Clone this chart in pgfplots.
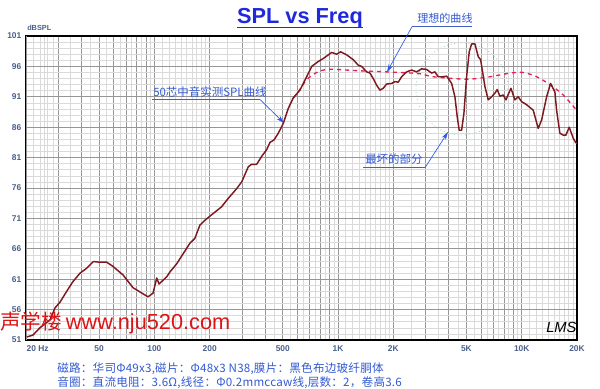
\documentclass[border=0pt]{standalone}
\usepackage{fontspec}
\setmainfont{Liberation Sans}
\newfontfamily\cjk{Noto Sans CJK SC}
\newfontfamily\cjkwide[LetterSpace=1.8]{Noto Sans CJK SC}
\usepackage{pgfplots}
\pgfplotsset{compat=1.18}
\usetikzlibrary{arrows.meta}
\definecolor{curve}{RGB}{125,25,30}
\definecolor{ideal}{RGB}{230,30,90}
\definecolor{anno}{RGB}{50,90,210}
\definecolor{arrowc}{RGB}{40,90,230}
\definecolor{ticklab}{RGB}{75,95,140}
\definecolor{titleblue}{RGB}{30,40,220}
\definecolor{gridmaj}{RGB}{150,150,150}
\definecolor{gridmin}{RGB}{218,218,218}
\definecolor{wm}{RGB}{220,20,20}
\definecolor{circ}{RGB}{165,215,215}

\pgfplotstableread{
f db
20.2 51.5
21.8 51.8
23.8 53.0
27 54.3
28.8 56.3
30.6 57.2
33.3 59.0
36 60.6
39.4 62.0
42.8 62.8
46.5 63.9
50.5 63.8
55 63.8
59.5 63.1
67.5 61.7
76.5 59.6
86.7 58.6
92.3 58.1
98.3 58.7
103 61.2
106 60.2
116.7 61.4
121.6 62.2
132 63.5
138 64.4
156 66.9
166 67.7
177 69.9
188.6 70.7
205 71.6
232 72.9
252.6 74.3
280.6 75.9
298.8 77.0
324.6 79.5
338.6 79.9
360.6 79.9
383.8 81.2
408.6 82.3
426 83.5
447.8 83.9
472.6 85.0
503 86.6
536 89.1
570 90.8
620 92.1
675 94.3
719 96.0
780 96.8
831 97.3
923 98.3
983 98.0
1033 98.4
1114 97.9
1210 97.1
1288 96.2
1344 96.0
1431 95.1
1492 94.9
1555 94.0
1622 92.9
1691 92.1
1762 92.4
1839 93.1
1958 93.2
2040 93.5
2126 93.4
2219 94.3
2362 95.1
2516 95.4
2678 95.1
2852 95.6
3036 95.5
3232 94.9
3368 95.1
3512 94.3
3738 94.3
3902 94.4
4154 93.2
4328 91.0
4456 87.7
4568 85.5
4708 85.5
4846 88.3
5012 94.3
5178 98.4
5336 99.7
5562 99.7
5798 97.6
5974 97.1
6304 92.7
6572 90.5
6858 91.0
7148 91.6
7356 92.2
7610 91.1
7932 91.3
8204 90.5
8734 92.4
9184 90.5
9572 91.0
9988 90.2
10634 89.7
11550 88.8
12300 85.8
12838 87.2
13664 91.0
14366 93.2
15160 91.8
15486 88.8
16140 85.0
16824 84.7
17404 84.7
18140 86.0
19070 84.2
19654 83.5
20000 83.3
}\measured

\pgfplotstableread{
f db
570 90.8
607 91.8
675 93.8
765 95.0
867 95.5
983 95.5
1263 95.3
1839 95.1
2172 95.0
2792 94.8
3298 94.3
5012 93.9
6714 94.3
8624 94.9
10190 95.0
12052 94.3
14242 93.0
16824 91.3
19900 88.8
}\ideal

\begin{document}
\begin{tikzpicture}
\useasboundingbox (-19.5pt,-36.75pt) rectangle (430.5pt,255pt);
\begin{scope}[shift={(-19.5pt,255pt)}]
\begin{scope}[x=0.75pt,y=-0.75pt]
\draw[circ, dotted, line width=0.7pt] (462,89) circle [radius=46];
\end{scope}
\end{scope}
\begin{axis}[at={(0,0)},anchor=south west,scale only axis,
  width=413.25pt,height=228pt,
  xmode=log, xmin=20, xmax=20000, ymin=51, ymax=101,
  xtick={20,30,40,50,60,70,80,90,100,200,300,400,500,600,700,800,900,1000,2000,3000,4000,5000,6000,7000,8000,9000,10000,20000},
  xticklabels={,,,50,,,,,100,200,,,500,,,,,1K,2K,,,5K,,,,,10K,20K},
  minor xtick={22,24,26,28,25,35,45,55,65,75,85,95,110,120,130,140,150,160,170,180,190,250,350,450,550,650,750,850,950,1100,1200,1300,1400,1500,1600,1700,1800,1900,2500,3500,4500,5500,6500,7500,8500,9500,11000,12000,13000,14000,15000,16000,17000,18000,19000},
  extra x ticks={20},
  extra x tick labels={20\ Hz},
  extra x tick style={xticklabel style={anchor=north west, xshift=-3pt}},
  ytick={51,56,...,101},
  minor y tick num=4,
  grid=both,
  major grid style={gridmaj, line width=0.6pt},
  minor grid style={gridmin, line width=0.4pt},
  major tick length=0pt, minor tick length=0pt,
  axis line style={black, line width=1.1pt},
  /pgf/number format/assume math mode=true,
  ticklabel style={font=\bfseries\fontsize{6.3}{7}\selectfont, text=ticklab},
  xticklabel style={yshift=-1pt},
  clip=true,
]
\addplot[ideal, dashed, line width=1pt, smooth] table[x=f,y=db] {\ideal};
\addplot[curve, line width=1.1pt, line join=round] table[x=f,y=db] {\measured};
\end{axis}
\begin{scope}[shift={(-19.5pt,255pt)}]
\begin{scope}[x=0.75pt,y=-0.75pt]
% title
\node[anchor=base, inner sep=0, font=\bfseries\fontsize{16.3}{18}\selectfont, text=titleblue] at (300,24) {SPL vs Freq};
\draw[titleblue, line width=1.3pt] (237,27.5) -- (363,27.5);
\node[anchor=base west, inner sep=0, font=\bfseries\fontsize{5.5}{6}\selectfont, text=ticklab] at (27,31) {dBSPL};
% annotation 1
\node[anchor=base west, inner sep=0, text=anno, font=\cjk\fontsize{8.6}{10}\selectfont] at (153,96.5) {50芯中音实测SPL曲线};
\draw[anno!80!gray, line width=0.5pt] (152,99.5) -- (260,99.5);
\draw[arrowc, line width=0.5pt, -{Stealth[length=6pt,width=3.5pt]}] (260,99.5) -- (284,123);
% annotation 2
\node[anchor=base west, inner sep=0, text=anno, font=\cjk\fontsize{8.3}{10}\selectfont] at (417,22.5) {理想的曲线};
\draw[anno!80!gray, line width=0.5pt] (412,26.7) -- (472,26.7);
\draw[arrowc, line width=0.5pt, -{Stealth[length=6pt,width=3.5pt]}] (412,26.7) -- (387,72);
% annotation 3
\node[anchor=base west, inner sep=0, text=anno, font=\cjk\fontsize{8.6}{10}\selectfont] at (365,164) {最坏的部分};
\draw[anno!80!gray, line width=0.5pt] (363,167.7) -- (425,167.7);
\draw[arrowc, line width=0.5pt, -{Stealth[length=6pt,width=3.5pt]}] (425,167.7) -- (448,132);
% watermark
\node[anchor=base west, inner sep=0, text=wm] at (0,329.5) {{\cjk\fontsize{15.5}{18}\selectfont 声学楼} \fontsize{16.3}{18}\selectfont www.nju520.com};
% LMS
\node[anchor=base west, inner sep=0, font=\itshape\fontsize{11}{12}\selectfont] at (546,333) {LMS};
% bottom text
\node[anchor=base west, inner sep=0, text=anno, font=\cjkwide\fontsize{8.7}{10}\selectfont] at (57,372.5) {磁路：华司Φ49x3,磁片：Φ48x3 N38,膜片：黑色布边玻纤胴体};
\node[anchor=base west, inner sep=0, text=anno, font=\cjkwide\fontsize{8.7}{10}\selectfont] at (57,386.5) {音圈：直流电阻：3.6Ω,线径：Φ0.2mmccaw线,层数：2，卷高3.6};
\end{scope}
\end{scope}
\end{tikzpicture}
\end{document}
